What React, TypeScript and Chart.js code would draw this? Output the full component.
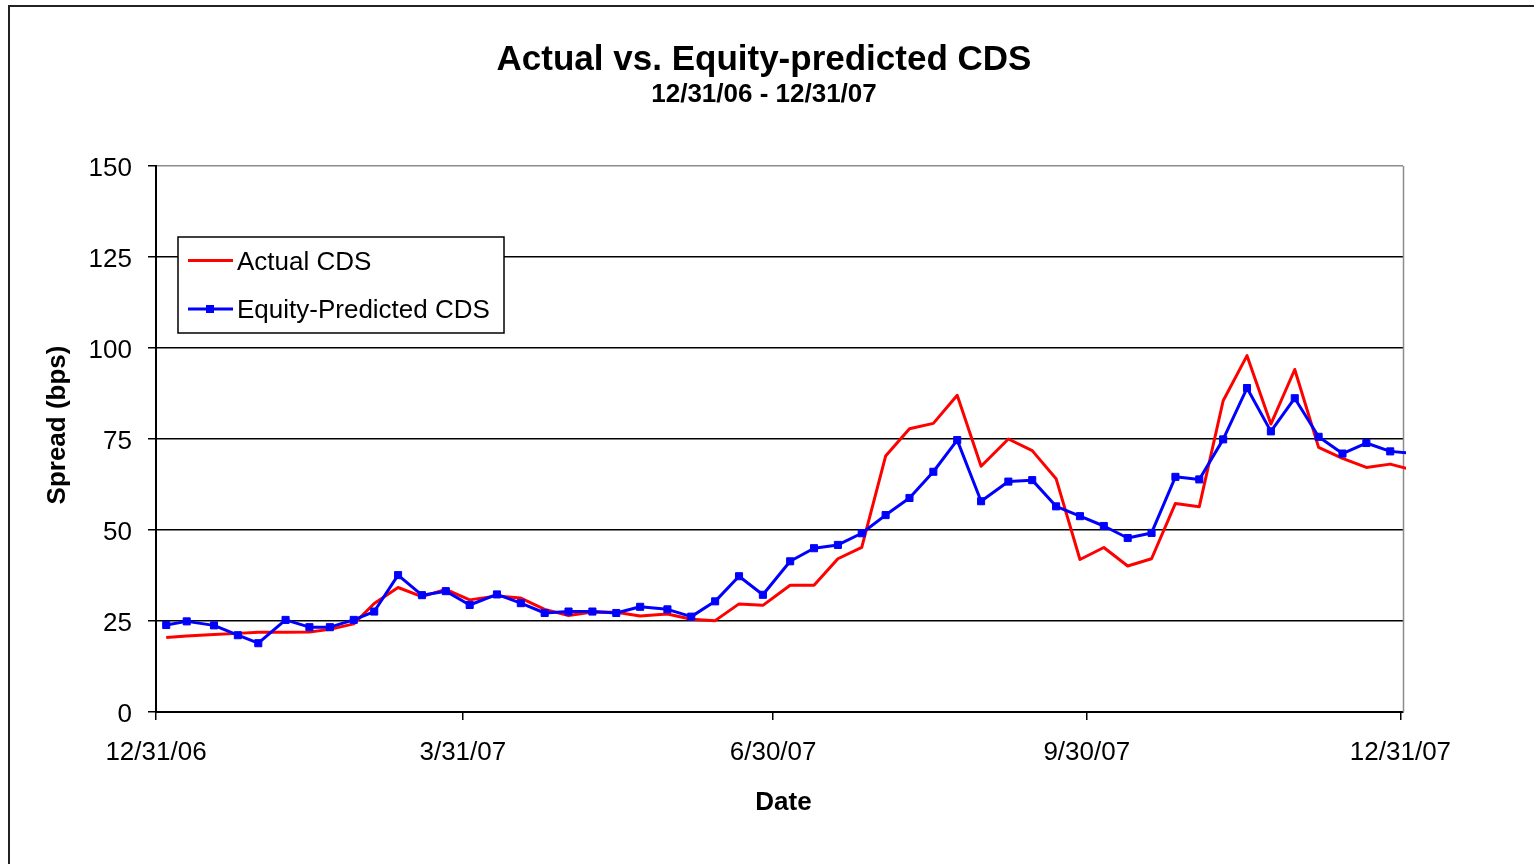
import React, { useEffect, useRef } from "react";
import { Chart, registerables } from "chart.js";

Chart.register(...registerables);

const FONT = '"Liberation Sans", Arial, Helvetica, sans-serif';

// Observation dates, as days after 12/31/06 (the last one falls just past year end).
const obsDay = [
  3, 9, 17, 24, 30, 38, 45, 51, 58, 64, 71, 78, 85, 92, 100, 107, 114, 121, 128, 135,
  142, 150, 157, 164, 171, 178, 186, 193, 200, 207, 214, 221, 228, 235, 242, 250, 257,
  264, 271, 278, 285, 292, 299, 306, 313, 320, 327, 334, 341, 348, 355, 362, 369,
];

// Spreads in basis points
const actualCds = [
  20.5, 20.9, 21.3, 21.6, 21.9, 21.9, 22.0, 22.7, 24.2, 29.8, 34.2, 31.7, 33.7, 30.8,
  31.9, 31.3, 28.2, 26.5, 27.5, 27.4, 26.4, 26.9, 25.5, 25.1, 29.7, 29.3, 34.8, 34.8,
  42.1, 45.2, 70.3, 77.8, 79.3, 87.0, 67.5, 75.0, 71.8, 64.1, 41.9, 45.2, 40.1, 42.1,
  57.3, 56.4, 85.5, 97.9, 79.1, 94.1, 72.7, 69.7, 67.2, 68.1, 66.4,
];

const equityPredictedCds = [
  23.9, 24.9, 23.8, 21.1, 18.9, 25.3, 23.3, 23.3, 25.3, 27.6, 37.6, 32.1, 33.2, 29.4,
  32.3, 29.9, 27.2, 27.6, 27.6, 27.2, 28.9, 28.2, 26.2, 30.4, 37.3, 32.2, 41.4, 45.0,
  45.9, 49.1, 54.1, 58.8, 66.0, 74.7, 57.9, 63.3, 63.7, 56.5, 53.8, 51.1, 47.8, 49.2,
  64.6, 63.9, 74.9, 89.0, 77.1, 86.2, 75.6, 71.0, 73.9, 71.6, 71.0,
];

const seriesNames = ["Actual CDS", "Equity-Predicted CDS"];

// Quarter-end ticks on the date axis
const tickDays = [0, 90, 181, 273, 365];
const tickLabels = ["12/31/06", "3/31/07", "6/30/07", "9/30/07", "12/31/07"];

const spreadMax = 150;
const spreadStep = 25;

const chartTitle = "Actual vs. Equity-predicted CDS";
const chartSubtitle = "12/31/06 - 12/31/07";
const xAxisTitle = "Date";
const yAxisTitle = "Spread (bps)";

const PLOT_EDGE = "#8c8c8c";

// Headings, plot frame and the boxed legend inside the plot area
const decorations = {
  id: "decorations",
  beforeDatasetsDraw(chart: any) {
    const { ctx, chartArea: a } = chart;
    ctx.save();
    ctx.strokeStyle = PLOT_EDGE;
    ctx.lineWidth = 1.5;
    ctx.beginPath();
    ctx.moveTo(a.right + 0.5, a.top);
    ctx.lineTo(a.right + 0.5, a.bottom);
    ctx.stroke();
    ctx.restore();
  },
  afterDraw(chart: any) {
    const { ctx } = chart;
    ctx.save();
    ctx.fillStyle = "#000";
    ctx.textAlign = "center";
    ctx.textBaseline = "middle";

    ctx.font = `bold 35px ${FONT}`;
    ctx.fillText(chartTitle, 764, 60);
    ctx.font = `bold 26px ${FONT}`;
    ctx.fillText(chartSubtitle, 764, 95);
    ctx.fillText(xAxisTitle, 783.5, 803);

    ctx.save();
    ctx.translate(57.5, 425);
    ctx.rotate(-Math.PI / 2);
    ctx.fillText(yAxisTitle, 0, 0);
    ctx.restore();

    // Legend
    const lx = 178;
    const ly = 237;
    const lw = 326;
    const lh = 96;
    ctx.fillStyle = "#fff";
    ctx.fillRect(lx, ly, lw, lh);
    ctx.strokeStyle = "#000";
    ctx.lineWidth = 1.5;
    ctx.strokeRect(lx, ly, lw, lh);

    ctx.font = `26px ${FONT}`;
    ctx.textAlign = "left";
    chart.data.datasets.forEach((ds: any, i: number) => {
      const y = 260.5 + i * 48.5;
      ctx.strokeStyle = ds.borderColor;
      ctx.lineWidth = 3;
      ctx.beginPath();
      ctx.moveTo(lx + 10, y);
      ctx.lineTo(lx + 55, y);
      ctx.stroke();
      if (ds.pointRadius > 0) {
        ctx.fillStyle = ds.pointBackgroundColor;
        ctx.fillRect(lx + 32 - 4, y - 4, 8, 8);
      }
      ctx.fillStyle = "#000";
      ctx.fillText(ds.label, lx + 59, y + 2);
    });
    ctx.restore();
  },
};

export default function App() {
  const canvasRef = useRef<HTMLCanvasElement>(null);

  useEffect(() => {
    if (!canvasRef.current) return;
    Chart.defaults.font.family = FONT;
    Chart.defaults.color = "#000";

    const toPoints = (vals: number[]) => obsDay.map((d, i) => ({ x: d, y: vals[i] }));

    const chart = new Chart(canvasRef.current, {
      type: "line",
      data: {
        datasets: [
          {
            label: seriesNames[0],
            data: toPoints(actualCds),
            borderColor: "#ff0000",
            backgroundColor: "#ff0000",
            borderWidth: 3,
            pointRadius: 0,
            tension: 0,
            borderJoinStyle: "round",
            order: 1,
            clip: { left: 5, top: 5, right: 3, bottom: 5 },
          },
          {
            label: seriesNames[1],
            data: toPoints(equityPredictedCds),
            borderColor: "#0000ff",
            backgroundColor: "#0000ff",
            borderWidth: 3,
            pointStyle: "rect",
            pointRadius: 5,
            pointBorderWidth: 1,
            pointBackgroundColor: "#0000ff",
            pointBorderColor: "#0000ff",
            tension: 0,
            borderJoinStyle: "round",
            order: 0,
            clip: { left: 5, top: 5, right: 3, bottom: 5 },
          },
        ],
      },
      options: {
        responsive: false,
        animation: false,
        events: [],
        layout: { padding: { left: 0, top: 166, right: 131, bottom: 0 } },
        plugins: {
          legend: { display: false },
          title: { display: false },
          tooltip: { enabled: false },
        },
        scales: {
          x: {
            type: "linear",
            min: 0,
            max: 365.75,
            afterFit: (s: any) => {
              s.height = 152;
            },
            afterBuildTicks: (s: any) => {
              s.ticks = tickDays.map((v) => ({ value: v }));
            },
            ticks: {
              autoSkip: false,
              maxRotation: 0,
              font: { size: 26 },
              color: "#000",
              padding: 17,
              callback: (v: any) => {
                const k = tickDays.indexOf(Number(v));
                return k >= 0 ? tickLabels[k] : "";
              },
            },
            grid: {
              drawOnChartArea: false,
              drawTicks: true,
              tickLength: 8,
              color: "#000",
              lineWidth: 1.5,
            },
            border: { display: true, color: "#000", width: 2 },
          },
          y: {
            min: 0,
            max: spreadMax,
            afterFit: (s: any) => {
              s.width = 156;
            },
            ticks: {
              stepSize: spreadStep,
              font: { size: 26 },
              color: "#000",
              padding: 16,
              labelOffset: 3,
            },
            grid: {
              color: (c: any) => (c.tick && c.tick.value === spreadMax ? PLOT_EDGE : "#000"),
              lineWidth: 1.5,
              tickColor: "#000",
              tickLength: 8,
            },
            border: { display: true, color: "#000", width: 2 },
          },
        },
      },
      plugins: [decorations],
    } as any);

    return () => chart.destroy();
  }, []);

  return (
    <div
      style={{
        position: "fixed",
        left: 0,
        top: 0,
        width: 1534,
        height: 864,
        overflow: "hidden",
        background: "#fff",
      }}
    >
      <canvas
        ref={canvasRef}
        width={1534}
        height={864}
        style={{ position: "absolute", left: 0, top: 0 }}
      />
      <div
        style={{
          position: "absolute",
          left: 8,
          top: 5,
          width: 1600,
          height: 1000,
          borderLeft: "2px solid #222",
          borderTop: "2px solid #222",
          pointerEvents: "none",
        }}
      />
    </div>
  );
}
